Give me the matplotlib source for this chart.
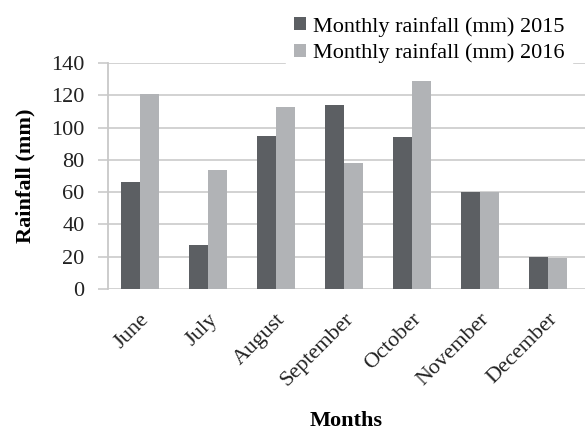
import numpy as np
import matplotlib.pyplot as plt

# Monthly rainfall data
months = ['June', 'July', 'August', 'September', 'October', 'November', 'December']
rain_2015 = [66, 27, 95, 114, 94, 60, 20]
rain_2016 = [121, 74, 113, 78, 129, 60, 19]
labels = ['Monthly rainfall (mm) 2015', 'Monthly rainfall (mm) 2016']
colors = ['#5c5f63', '#b1b3b6']

plt.rcParams['font.family'] = ['Liberation Serif', 'DejaVu Serif']

fig = plt.figure(figsize=(5.85, 4.32), dpi=100)
ax = fig.add_axes([0.1846, 0.331, 0.8154, 0.523])

x = np.arange(len(months))
w = 0.28
ax.bar(x - w / 2, rain_2015, width=w, color=colors[0], label=labels[0], zorder=3)
ax.bar(x + w / 2, rain_2016, width=w, color=colors[1], label=labels[1], zorder=3)

ax.set_xlim(-0.47, 6.54)
ax.set_ylim(0, 140)
ax.set_yticks(range(0, 141, 20))
ax.set_xticks(x)
ax.set_xticklabels(months, rotation=45, ha='right', rotation_mode='anchor', fontsize=16, color='#222222')

# light gray gridlines like the Excel original
ax.yaxis.grid(True, color='#cfcfcf', linewidth=1.3, zorder=0)
for s in ['top', 'right', 'bottom']:
    ax.spines[s].set_visible(False)
ax.spines['left'].set_color('#c8c8c8')
ax.spines['left'].set_linewidth(1.3)
ax.tick_params(axis='y', length=7, width=1.3, color='#cfcfcf', labelsize=16, labelcolor='#222222', pad=10)
ax.tick_params(axis='x', length=0, pad=15)

ax.set_ylabel('Rainfall (mm)', fontsize=16, fontweight='bold', labelpad=11)
ax.set_xlabel('Months', fontsize=16, fontweight='bold', labelpad=15)

leg = fig.legend(loc='upper right', bbox_to_anchor=(0.997, 1.005), fontsize=16,
                 frameon=True, facecolor='white', edgecolor='white', framealpha=1,
                 handlelength=0.55, handleheight=0.55, handletextpad=0.3,
                 labelspacing=0.3, borderpad=0.35, fancybox=False)

plt.savefig('out.png', dpi=100)
